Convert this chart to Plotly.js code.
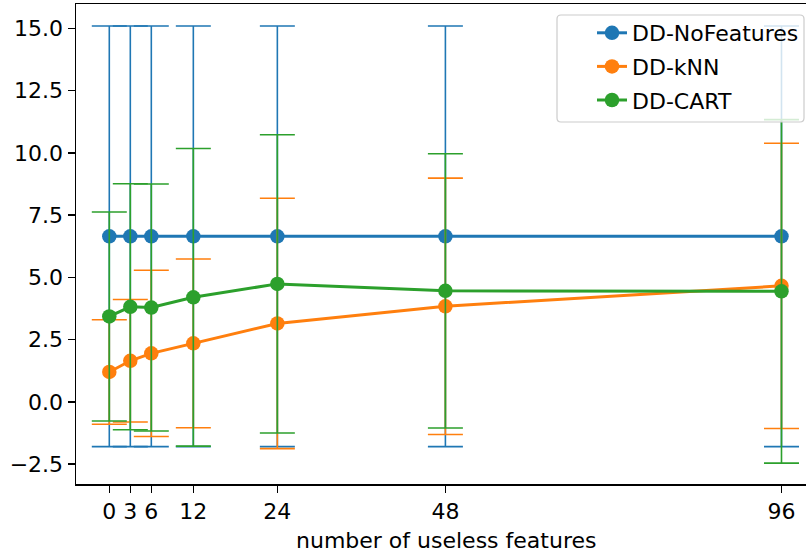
<!DOCTYPE html>
<html>
<head>
<meta charset="utf-8">
<script src="https://cdn.plot.ly/plotly-3.0.1.min.js"></script>
<style>html,body{margin:0;padding:0;background:#fff;overflow:hidden}</style>
</head>
<body>
<div id="chart" style="width:806px;height:554px"></div>
<script>
const xFeatures = [0, 3, 6, 12, 24, 48, 96];
const xTickLabels = ["0", "3", "6", "12", "24", "48", "96"];

const seriesNames = ["DD-NoFeatures", "DD-kNN", "DD-CART"];

const noFeaturesMean = [6.65, 6.65, 6.65, 6.65, 6.65, 6.65, 6.65];
const noFeaturesErr  = [8.45, 8.45, 8.45, 8.45, 8.45, 8.45, 8.45];

const knnMean = [1.20, 1.65, 1.95, 2.35, 3.15, 3.84, 4.66];
const knnErr  = [2.10, 2.46, 3.34, 3.39, 5.03, 5.15, 5.73];

const cartMean = [3.43, 3.82, 3.79, 4.20, 4.74, 4.46, 4.44];
const cartErr  = [4.20, 4.94, 4.96, 5.98, 5.99, 5.51, 6.90];

const colors = ["#1f77b4", "#ff7f0e", "#2ca02c"];
const means = [noFeaturesMean, knnMean, cartMean];
const errs = [noFeaturesErr, knnErr, cartErr];

const traces = seriesNames.map((name, i) => ({
  type: "scatter",
  mode: "lines+markers",
  name: name,
  x: xFeatures,
  y: means[i],
  legendgroup: "g" + i,
  line: {color: colors[i], width: 3},
  marker: {color: colors[i], size: 14.5},
  error_y: {type: "data", symmetric: true, array: errs[i], color: colors[i], thickness: 1.6, width: 17.5, visible: true}
}));

const font = {family: "DejaVu Sans, sans-serif", size: 22, color: "#000"};

// plot area in px: left 76, right 806, top 4, bottom 484
const W = 730, H = 480;
const px = v => (v - 76) / W;
const py = v => (484 - v) / H;
function roundRect(x0, y0, x1, y1, r) {
  const rx = r / W, ry = r / H;
  const X0 = px(x0), X1 = px(x1), Y0 = py(y0), Y1 = py(y1);
  return `M ${X0 + rx} ${Y0} L ${X1 - rx} ${Y0} Q ${X1} ${Y0} ${X1} ${Y0 - ry} ` +
         `L ${X1} ${Y1 + ry} Q ${X1} ${Y1} ${X1 - rx} ${Y1} L ${X0 + rx} ${Y1} ` +
         `Q ${X0} ${Y1} ${X0} ${Y1 + ry} L ${X0} ${Y0 - ry} Q ${X0} ${Y0} ${X0 + rx} ${Y0} Z`;
}

const layout = {
  width: 806,
  height: 554,
  margin: {l: 76, r: 0, t: 4, b: 70, pad: 0},
  paper_bgcolor: "#fff",
  plot_bgcolor: "#fff",
  font: font,
  showlegend: true,
  legend: {
    x: px(804), xanchor: "right", y: py(12), yanchor: "top",
    bgcolor: "rgba(0,0,0,0)", borderwidth: 0,
    font: font, tracegroupgap: 2
  },
  shapes: [{
    type: "path", xref: "paper", yref: "paper", layer: "above",
    path: roundRect(557, 15, 804, 122, 4),
    fillcolor: "rgba(255,255,255,0.8)",
    line: {color: "#cccccc", width: 1.2}
  }],
  annotations: [{
    text: "number of useless features", xref: "paper", yref: "paper",
    x: px(446), y: py(540), xanchor: "center", yanchor: "middle",
    showarrow: false, font: font
  }],
  xaxis: {
    range: [-4.756, 99.5],
    tickmode: "array", tickvals: xFeatures, ticktext: xTickLabels,
    showgrid: false, zeroline: false,
    showline: true, linecolor: "#000", linewidth: 1.5, mirror: true,
    ticks: "outside", ticklen: 7, tickwidth: 1.5, tickcolor: "#000",
    tickfont: font,
    automargin: false
  },
  yaxis: {
    range: [-3.30, 15.984],
    tickmode: "linear", tick0: 0, dtick: 2.5, tickformat: ".1f",
    showgrid: false, zeroline: false,
    showline: true, linecolor: "#000", linewidth: 1.5, mirror: false,
    ticks: "outside", ticklen: 7, tickwidth: 1.5, tickcolor: "#000",
    tickfont: font,
    automargin: false
  }
};

Plotly.newPlot("chart", traces, layout, {displayModeBar: false, staticPlot: true});
</script>
</body>
</html>
